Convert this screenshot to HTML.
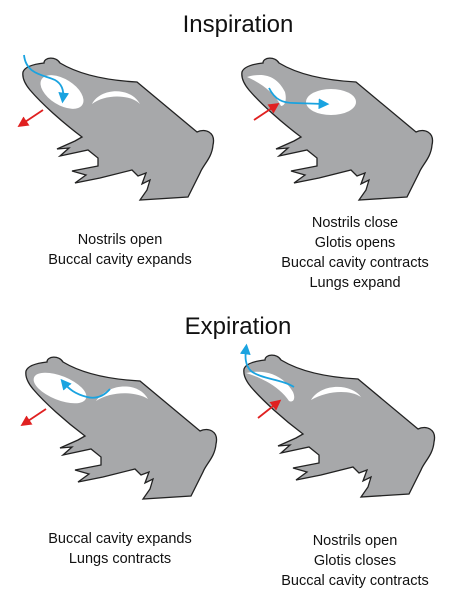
<!DOCTYPE html>
<html><head><meta charset="utf-8"><style>
body{margin:0;width:476px;height:600px;background:#fff;overflow:hidden}
svg{display:block}
text{font-family:"Liberation Sans",Arial,sans-serif;fill:#111}
</style></head><body>
<svg width="476" height="600" viewBox="0 0 476 600">
<defs>
<path id="frog" d="M23,72 C25,66 35,64 44,63 C44,57 56,56 60,63 C75,72 100,80 137,82 L197,132 C205,128 216,132 213,145 C212,158 203,165 200,173 L188,197 L140,200 L147,190 L150,180 L142,184 L146,173 L138,176 L132,170 L100,178 L75,183 L86,175 L72,171 L98,166 L98,158 L88,150 L60,156 L69,148 L57,149 L75,141 L82,137 C62,122 42,104 30,90 C25,84 22,78 23,72 Z" fill="#a7a8aa" stroke="#222" stroke-width="1.3"/>
<marker id="bh" markerWidth="6" markerHeight="6" refX="3" refY="3" orient="auto"><path d="M0,0 L6,3 L0,6 Z" fill="#1aa3e0"/></marker>
<marker id="rh" markerWidth="6" markerHeight="6" refX="3" refY="3" orient="auto"><path d="M0,0 L6,3 L0,6 Z" fill="#e02020"/></marker>
</defs>
<text x="238" y="32" font-size="24" text-anchor="middle">Inspiration</text>
<text x="238" y="334" font-size="24" text-anchor="middle">Expiration</text>

<g>
<use href="#frog"/>
<ellipse cx="62" cy="92" rx="24" ry="13" transform="rotate(32 62 92)" fill="#fff"/>
<path d="M92,104 C100,88 130,86 140,104 C130,94 105,94 92,104 Z" fill="#fff"/>
<path d="M24,55 C26,75 45,75 55,80 C62,84 64,90 63,98" fill="none" stroke="#1aa3e0" stroke-width="1.8" marker-end="url(#bh)"/>
<path d="M43,110 L22,124" stroke="#e02020" stroke-width="1.8" marker-end="url(#rh)"/>
</g>
<g transform="translate(219,0)">
<use href="#frog"/>
<ellipse cx="112" cy="102" rx="25" ry="13" fill="#fff"/>
<path d="M28,77 C45,72 58,76 66,92 C68,100 66,106 62,106 C56,94 44,84 28,77 Z" fill="#fff"/>
<path d="M50,88 C56,100 64,103 75,103 L105,104" fill="none" stroke="#1aa3e0" stroke-width="1.8" marker-end="url(#bh)"/>
<path d="M35,120 L56,106" stroke="#e02020" stroke-width="1.8" marker-end="url(#rh)"/>
</g>
<g transform="translate(3,299)">
<use href="#frog"/>
<ellipse cx="57" cy="89" rx="28" ry="12" transform="rotate(22 57 89)" fill="#fff"/>
<path d="M93,102 C105,84 135,82 145,100 C132,92 108,92 93,102 Z" fill="#fff"/>
<path d="M107,90 C100,98 92,100 84,98 C72,95 66,90 61,84" fill="none" stroke="#1aa3e0" stroke-width="1.8" marker-end="url(#bh)"/>
<path d="M43,110 L22,124" stroke="#e02020" stroke-width="1.8" marker-end="url(#rh)"/>
</g>
<g transform="translate(221,297)">
<use href="#frog"/>
<path d="M25,76 C45,72 62,78 72,95 C75,102 72,106 68,104 C60,92 45,82 25,76 Z" fill="#fff"/>
<path d="M90,103 C100,86 130,86 140,100 C128,92 105,94 90,103 Z" fill="#fff"/>
<path d="M73,90 C60,82 40,82 30,74 C24,68 24,60 25,52" fill="none" stroke="#1aa3e0" stroke-width="1.8" marker-end="url(#bh)"/>
<path d="M37,121 L56,106" stroke="#e02020" stroke-width="1.8" marker-end="url(#rh)"/>
</g>

<g font-size="14.5" text-anchor="middle">
<text x="120" y="244">Nostrils open</text>
<text x="120" y="264">Buccal cavity expands</text>
</g>
<g font-size="14.5" text-anchor="middle">
<text x="355" y="227">Nostrils close</text>
<text x="355" y="247">Glotis opens</text>
<text x="355" y="267">Buccal cavity contracts</text>
<text x="355" y="287">Lungs expand</text>
</g>
<g font-size="14.5" text-anchor="middle">
<text x="120" y="543">Buccal cavity expands</text>
<text x="120" y="563">Lungs contracts</text>
</g>
<g font-size="14.5" text-anchor="middle">
<text x="355" y="545">Nostrils open</text>
<text x="355" y="565">Glotis closes</text>
<text x="355" y="585">Buccal cavity contracts</text>
</g>
</svg>
</body></html>
